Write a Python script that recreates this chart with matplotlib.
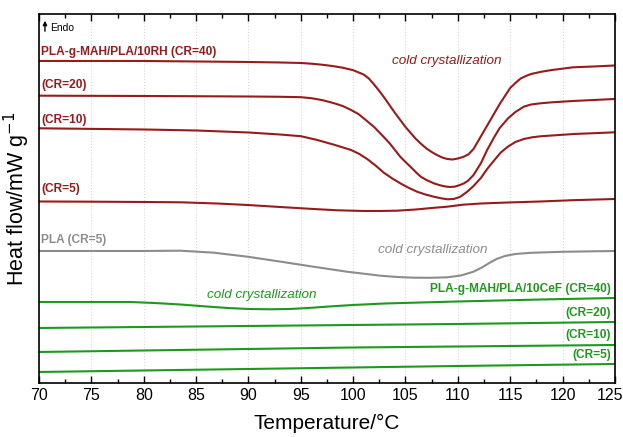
import matplotlib.pyplot as plt
import matplotlib.transforms as mtransforms
from matplotlib.ticker import MultipleLocator

plt.rcParams["font.family"] = ["Liberation Sans", "DejaVu Sans"]

RED = "#971b1b"
GRAY = "#8c8c8c"
GREEN = "#1f981f"

# heat flow traces (arbitrary units, curves stacked with offsets)
t_rh40 = [70, 80, 85, 90, 93, 95, 96, 97, 98, 99, 100, 101, 101.5, 102, 102.5,
          103, 103.5, 104, 104.5, 105, 105.5, 106, 106.5, 107, 107.5, 108,
          108.5, 109, 109.5, 110, 110.5, 111, 111.5, 112, 112.5, 113, 113.5,
          114, 114.5, 115, 115.5, 116, 116.5, 117, 118, 119, 120, 121, 123, 125]
rh_cr40 = [322, 322, 321.5, 321, 320.5, 320, 319.3, 318.3, 317, 315.3, 312.8,
           308.5, 304.5, 298.5, 292, 285, 277.5, 270, 263, 256, 250, 244, 239,
           234.5, 231, 228, 225.5, 224, 223.5, 224.5, 226, 228.5, 234, 243,
           252, 261, 270, 279, 287, 295, 300, 304.5, 307, 309, 311.3, 313,
           314.3, 315.7, 316.5, 317.5]

t_rh20 = [70, 80, 90, 93, 95, 96, 97, 98.2, 99, 99.8, 100.5, 101.4, 102, 102.9,
          103.5, 104.5, 105, 105.5, 106.1, 106.5, 107, 107.7, 108.2, 108.7,
          109.2, 109.7, 110.2, 110.6, 111, 111.5, 112.2, 112.8, 113.5, 114,
          114.8, 115.5, 116.3, 117, 117.9, 119, 121, 123, 125]
rh_cr20 = [287.3, 287, 286.5, 286.2, 285.8, 284.8, 283, 279.7, 277, 273, 269,
           261.3, 256, 246.3, 239.5, 226.3, 221, 216, 209.7, 206, 203, 199.7,
           198, 196.7, 196, 196.3, 198, 199.7, 202.5, 208, 219.7, 233, 246.3,
           255, 264.7, 271, 276.3, 278.5, 279.7, 280.7, 282, 283, 284]

t_rh10 = [70, 80, 85, 90, 93, 95, 96.5, 98.2, 99.8, 100.6, 101.4, 102.2, 102.9,
          103.7, 104.5, 105.3, 106.1, 106.9, 107.7, 108.4, 109, 109.6, 110.2,
          110.9, 111.5, 112.2, 112.8, 113.5, 114.1, 114.8, 115.5, 116.3, 117.1,
          117.9, 119, 121.1, 123, 125]
rh_cr10 = [254.7, 253.5, 252.5, 250.5, 248.5, 246.8, 243.2, 238.2, 233, 229, 223.5,
           217, 210.5, 204.8, 199.7, 195.2, 191.3, 188.5, 186.3, 184.7, 183.7,
           184, 186, 191.3, 197, 205, 214, 223, 230.5, 236.5, 241, 244, 245.7,
           246.7, 247.5, 249, 249.8, 250.7]

t_rh5 = [70, 75, 80, 83.5, 87, 89.9, 93, 96.2, 98.5, 101, 102.5, 104.2, 106,
         107.5, 109, 110.5, 112.2, 114.8, 117.9, 121, 125]
rh_cr5 = [181.5, 181.3, 181, 180.7, 179.5, 178, 176, 174, 172.7, 172, 172,
          172.3, 173.5, 175, 176.3, 178.3, 179.5, 180.5, 181.5, 182.8, 184]

t_pla = [70, 80, 83.5, 86.7, 89.9, 93.1, 96.2, 99.4, 102.6, 104.2, 105.8,
         107.4, 109, 110.3, 111.5, 112.3, 113, 113.7, 114.5, 115.5, 117, 120, 125]
pla_cr5 = [132, 132, 132.3, 130.3, 126.3, 121.3, 116.3, 111.3, 107.3, 106,
           105.3, 105.2, 105.7, 107.5, 111.3, 115.5, 120, 124, 127, 129, 130.2,
           131.2, 132]

t_cef40 = [70, 78.7, 81, 83.5, 86, 88, 90, 92, 94, 96, 98, 100, 103, 110, 118, 125]
cef_cr40 = [81, 81, 80, 78.5, 76.5, 75, 74, 73.7, 74, 75.2, 76.7, 78, 79.5,
            81.5, 83.5, 85]
t_cef = [70, 80, 90, 100, 110, 125]
cef_cr20 = [55, 56, 57, 58, 59, 61]
cef_cr10 = [31, 32.5, 34, 35.5, 36.5, 38]
cef_cr5 = [11, 12.5, 14, 15.5, 17, 19]

temp_ticks = [70, 75, 80, 85, 90, 95, 100, 105, 110, 115, 120, 125]

fig = plt.figure(figsize=(6.23, 4.37), dpi=100)
ax = fig.add_axes([0.0626, 0.1236, 0.9244, 0.8444])

lw = 1.5
ax.plot(t_rh40, rh_cr40, color=RED, lw=lw)
ax.plot(t_rh20, rh_cr20, color=RED, lw=lw)
ax.plot(t_rh10, rh_cr10, color=RED, lw=lw)
ax.plot(t_rh5, rh_cr5, color=RED, lw=lw)
ax.plot(t_pla, pla_cr5, color=GRAY, lw=lw)
ax.plot(t_cef40, cef_cr40, color=GREEN, lw=lw)
for y in [cef_cr20, cef_cr10, cef_cr5]:
    ax.plot(t_cef, y, color=GREEN, lw=lw)

ax.set_xlim(70, 125)
ax.set_ylim(0, 369)
ax.set_xticks(temp_ticks)
ax.xaxis.set_minor_locator(MultipleLocator(2.5))
ax.set_yticks([])
ax.tick_params(axis="x", which="both", direction="in", top=True, labelsize=11.5)
ax.tick_params(axis="x", which="major", length=5, width=1)
ax.tick_params(axis="x", which="minor", length=3, width=1)
ax.grid(axis="x", linestyle=":", color="#d9d9d9", lw=0.8)
for s in ax.spines.values():
    s.set_linewidth(1.2)

# nudge the last tick label so it stays inside the figure edge
last = ax.xaxis.get_major_ticks()[-1].label1
last.set_transform(last.get_transform()
                   + mtransforms.ScaledTranslation(-5 / 100, 0, fig.dpi_scale_trans))

ax.set_xlabel("Temperature/°C", fontsize=15, labelpad=8)
ax.set_ylabel("Heat flow/mW g$^{-1}$", fontsize=15.5)
ax.yaxis.set_label_coords(-0.012, 0.5)

# endothermic direction marker
ax.annotate("", xy=(70.57, 365), xytext=(70.57, 349),
            arrowprops=dict(arrowstyle="-|>", color="black", lw=1, mutation_scale=6))
ax.text(71.1, 355, "Endo", fontsize=7.5, va="center")

lab = dict(fontsize=8.6, fontweight="bold", va="center")
ax.text(70.2, 331, "PLA-g-MAH/PLA/10RH (CR=40)", color=RED, ha="left", **lab)
ax.text(70.2, 298, "(CR=20)", color=RED, ha="left", **lab)
ax.text(70.2, 263, "(CR=10)", color=RED, ha="left", **lab)
ax.text(70.2, 194, "(CR=5)", color=RED, ha="left", **lab)
ax.text(70.2, 143, "PLA (CR=5)", color=GRAY, ha="left", **lab)
ax.text(124.6, 94, "PLA-g-MAH/PLA/10CeF (CR=40)", color=GREEN, ha="right", **lab)
ax.text(124.6, 70, "(CR=20)", color=GREEN, ha="right", **lab)
ax.text(124.6, 48, "(CR=10)", color=GREEN, ha="right", **lab)
ax.text(124.6, 28, "(CR=5)", color=GREEN, ha="right", **lab)

it = dict(fontsize=9.7, style="italic", ha="center", va="center")
ax.text(108.9, 322, "cold crystallization", color=RED, **it)
ax.text(107.6, 133, "cold crystallization", color=GRAY, **it)
ax.text(91.3, 88, "cold crystallization", color=GREEN, **it)

fig.savefig("out.png", dpi=100)
